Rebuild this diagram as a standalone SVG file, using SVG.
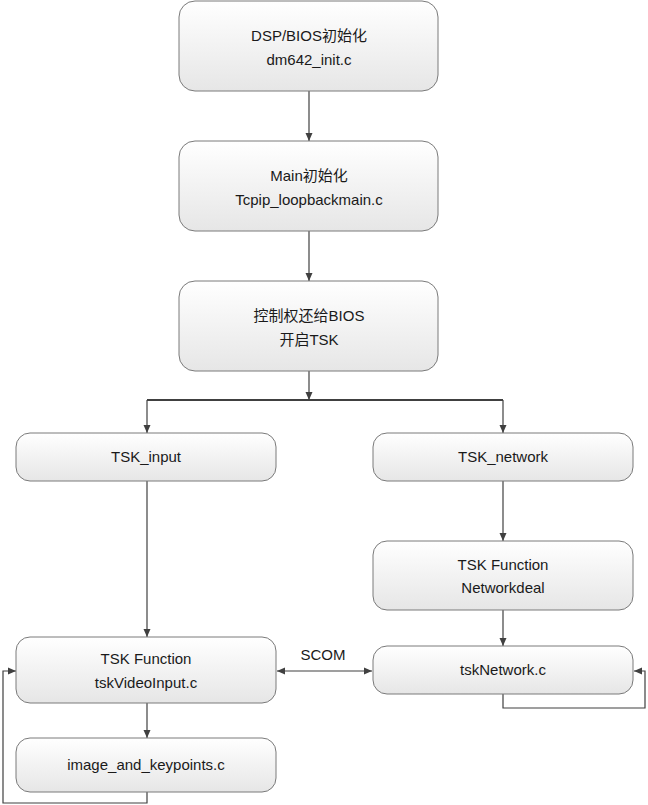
<svg xmlns="http://www.w3.org/2000/svg" width="648" height="805" viewBox="0 0 648 805">
<defs>
<linearGradient id="g" x1="0" y1="0" x2="0" y2="1">
<stop offset="0" stop-color="#ffffff"/>
<stop offset="1" stop-color="#e6e6e6"/>
</linearGradient>
<marker id="ah" markerWidth="10" markerHeight="10" refX="9" refY="5" orient="auto-start-reverse" markerUnits="userSpaceOnUse">
<path d="M1,1.5 L9,5 L1,8.5 Z" fill="#404040"/>
</marker>
<style>
.box{fill:url(#g);stroke:#7a7a7a;stroke-width:1}
.t{font-family:"Liberation Sans","Noto Sans CJK SC",sans-serif;font-size:15px;fill:#1a1a1a;text-anchor:middle}
.c{fill:none;stroke:#404040;stroke-width:1.2}
</style>
</defs>
<rect width="648" height="805" fill="#ffffff"/>
<g id="connectors">
<path class="c" d="M309,91 V141" marker-end="url(#ah)"/>
<path class="c" d="M309,231 V281" marker-end="url(#ah)"/>
<path class="c" d="M309,371 V400" marker-end="url(#ah)"/>
<path class="c" d="M147,400 H503" style="stroke-width:2"/>
<path class="c" d="M147,400 V433" marker-end="url(#ah)"/>
<path class="c" d="M503,400 V433" marker-end="url(#ah)"/>
<path class="c" d="M147,481 V637" marker-end="url(#ah)"/>
<path class="c" d="M503,481 V541" marker-end="url(#ah)"/>
<path class="c" d="M503,610 V646" marker-end="url(#ah)"/>
<path class="c" d="M147,703 V738" marker-end="url(#ah)"/>
<path class="c" d="M277,671 H372" marker-start="url(#ah)" marker-end="url(#ah)"/>
<path class="c" d="M503,694 V708 H645 V671 H634" marker-end="url(#ah)"/>
<path class="c" d="M147,792 V803 H3 V671 H16" marker-end="url(#ah)"/>
<text class="t" x="323" y="660">SCOM</text>
</g>
<g id="n1"><rect class="box" x="179" y="1" width="259" height="90" rx="16"/><text class="t" x="309" y="41">DSP/BIOS初始化</text><text class="t" x="309" y="65">dm642_init.c</text></g>
<g id="n2"><rect class="box" x="179" y="141" width="259" height="90" rx="16"/><text class="t" x="309" y="181">Main初始化</text><text class="t" x="309" y="205">Tcpip_loopbackmain.c</text></g>
<g id="n3"><rect class="box" x="179" y="281" width="259" height="90" rx="16"/><text class="t" x="309" y="321">控制权还给BIOS</text><text class="t" x="309" y="345">开启TSK</text></g>
<g id="n4"><rect class="box" x="16" y="433" width="260" height="48" rx="14"/><text class="t" x="146" y="462">TSK_input</text></g>
<g id="n5"><rect class="box" x="373" y="433" width="260" height="48" rx="14"/><text class="t" x="503" y="462">TSK_network</text></g>
<g id="n6"><rect class="box" x="373" y="541" width="260" height="69" rx="14"/><text class="t" x="503" y="570">TSK Function</text><text class="t" x="503" y="593">Networkdeal</text></g>
<g id="n7"><rect class="box" x="16" y="637" width="260" height="66" rx="14"/><text class="t" x="146" y="664">TSK Function</text><text class="t" x="146" y="688">tskVideoInput.c</text></g>
<g id="n8"><rect class="box" x="373" y="646" width="260" height="48" rx="14"/><text class="t" x="503" y="675">tskNetwork.c</text></g>
<g id="n9"><rect class="box" x="16" y="738" width="260" height="54" rx="14"/><text class="t" x="146" y="770">image_and_keypoints.c</text></g>
</svg>
